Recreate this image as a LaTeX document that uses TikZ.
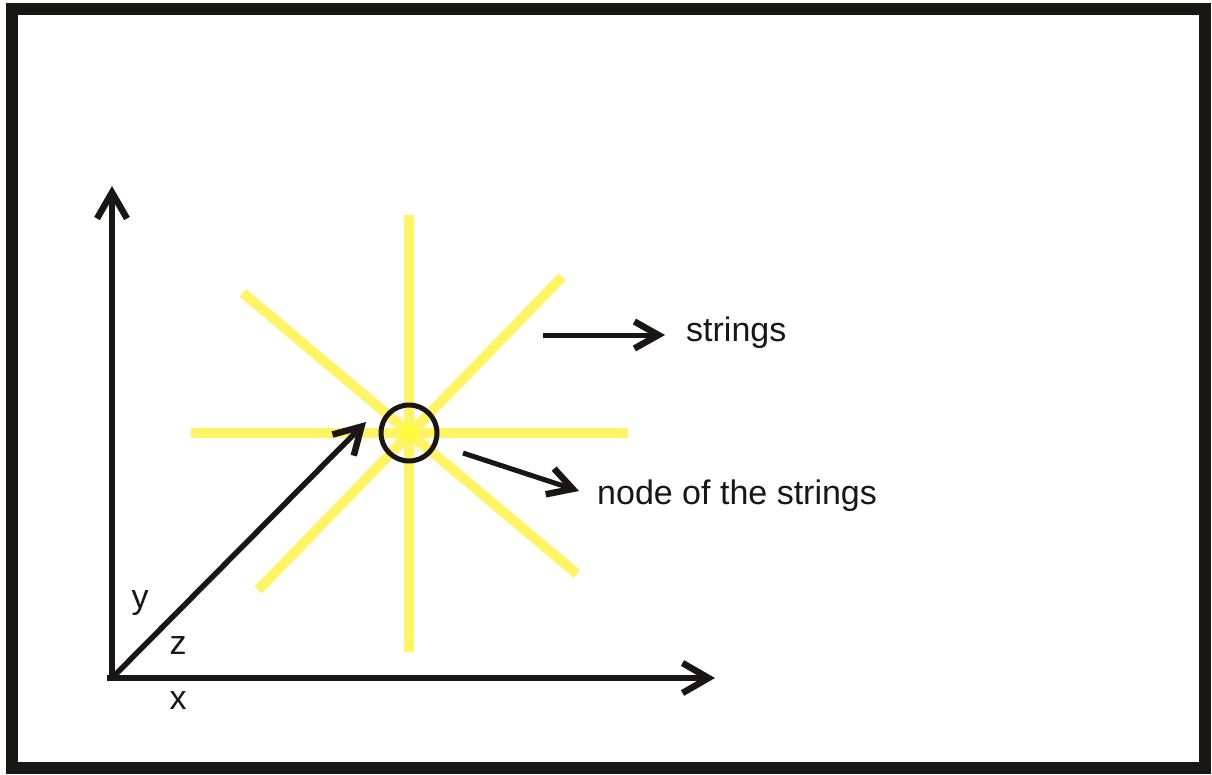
\documentclass[tikz,border=0pt]{standalone}
\usepackage{fontspec}
\setmainfont{Liberation Sans}
\usetikzlibrary{arrows.meta}
\definecolor{stryellow}{RGB}{255,245,100}
\definecolor{ink}{RGB}{25,22,22}
\begin{document}
\begin{tikzpicture}[x=1pt,y=-1pt,
  axis/.style={draw=ink,line width=5.5pt,-{Straight Barb[length=26pt 0 0,width=30pt 0 0,line width=6.5pt]}},
  pointer/.style={draw=ink,line width=5pt,-{Straight Barb[length=24pt 0 0,width=27pt 0 0,line width=6.5pt]}},
  strand/.style={draw=stryellow,line width=10pt},
  lbl/.style={inner sep=0pt,font=\fontsize{34}{40}\selectfont,text=ink}]
\useasboundingbox (0,0) rectangle (1212,774);
\fill[white] (0,0) rectangle (1212,774);
\draw[ink,line width=12pt] (11.5,9) rectangle (1205,767.5);
% strings
\coordinate (c) at (409,433);
\shade[inner color=stryellow!70!yellow, outer color=white] (c) circle (22);
\draw[strand] (409,215) -- (409,652);
\draw[strand] (191,433) -- (628,433);
\draw[strand] (243,293) -- (577,574);
\draw[strand] (562,277) -- (258,590);
\fill[stryellow!60!yellow] (c) circle (9);
\node[circle,draw=ink,line width=5pt,minimum size=56pt,inner sep=0pt] (hub) at (c) {};
% axes
\coordinate (o) at (112,678);
\coordinate (ytip) at (112,186);
\coordinate (xtip) at (715,678);
\coordinate (ztip) at (366,422);
\draw[axis] (107,678) -- (xtip);
\draw[axis] (o) -- (ytip);
\draw[axis] (o) -- (ztip);
\node[lbl] (ylab) at (140,603) {y};
\node[lbl] (zlab) at (178,646) {z};
\node[lbl] (xlab) at (178,701) {x};
% labels
\node[lbl,anchor=west] (strings) at (686,333) {strings};
\coordinate (sa) at (543,335);
\draw[pointer] (sa) -- (665,335) coordinate (sb);
\node[lbl,anchor=west] (nodelab) at (597,496) {node of the strings};
\coordinate (na) at (463,453);
\draw[pointer] (na) -- (579,491) coordinate (nb);
\end{tikzpicture}
\end{document}
